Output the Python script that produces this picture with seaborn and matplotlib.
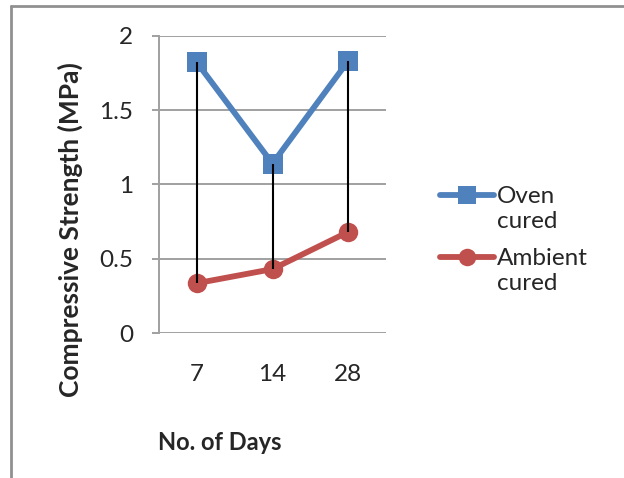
import matplotlib
matplotlib.use("Agg")
import matplotlib.pyplot as plt
import seaborn as sns
import pandas as pd
import numpy as np

days = ["7", "14", "28"]
oven_cured = [1.82, 1.14, 1.83]
ambient_cured = [0.335, 0.43, 0.68]
series_names = ["Oven\ncured", "Ambient\ncured"]
y_ticks = [0, 0.5, 1, 1.5, 2]
y_tick_labels = ["0", "0.5", "1", "1.5", "2"]

sns.set_theme(style="white")
plt.rcParams['font.family'] = ['Lato', 'DejaVu Sans']

pos = list(range(len(days)))
df = pd.DataFrame({
    "pos": pos * 2,
    "value": oven_cured + ambient_cured,
    "series": [series_names[0]] * 3 + [series_names[1]] * 3,
})

fig = plt.figure(figsize=(6.24, 4.78), dpi=100)
ax = fig.add_axes([0.2548, 0.3033, 0.6186 - 0.2548, 0.9253 - 0.3033])

grid_c = "#a0a0a0"
for t in y_ticks:
    ax.axhline(t, color=grid_c, lw=1.4, zorder=0)

ax.vlines(pos, ambient_cured, oven_cured, color="black", lw=1.5, zorder=5)

sns.lineplot(data=df, x="pos", y="value", hue="series", style="series",
             markers={series_names[0]: "s", series_names[1]: "o"}, dashes=False,
             palette={series_names[0]: "#4f81bd", series_names[1]: "#c0504d"},
             markersize=14, markeredgewidth=0, linewidth=4.2, sort=False, ax=ax,
             zorder=3)

ax.set_xlim(-0.5, 2.5)
ax.set_ylim(0, 2)
ax.set_xticks(pos)
ax.set_xticklabels(days)
ax.set_yticks(y_ticks)
ax.set_yticklabels(y_tick_labels)
for s in ["top", "right", "bottom"]:
    ax.spines[s].set_visible(False)
ax.spines["left"].set_color(grid_c)
ax.spines["left"].set_linewidth(1.4)
ax.tick_params(axis="y", length=5, width=1.4, color=grid_c, pad=13.5, labelsize=17.5, left=True)
ax.tick_params(axis="x", length=0, pad=22, labelsize=17.5)
ax.set_xlabel("")
ax.set_ylabel("")

fig.text(220 / 624, 1 - 443 / 478, "No. of Days", ha="center", va="center",
         fontsize=17, fontweight="bold")
fig.text(70 / 624, 1 - 230 / 478, "Compressive Strength (MPa)", ha="center", va="center",
         rotation=90, fontsize=19, fontweight="bold")

handles, labels = ax.get_legend_handles_labels()
leg = ax.legend(handles, labels, loc="upper left", bbox_to_anchor=(428 / 624, 1 - 174 / 478),
                bbox_transform=fig.transFigure, frameon=False, fontsize=17.5,
                handlelength=2.2, handletextpad=0.15, labelspacing=0.65, borderpad=0,
                markerscale=0.9)
for txt in leg.get_texts():
    txt.set_linespacing(1.25)
# align each legend handle with the first line of its two-line label
fig.canvas.draw()
for h in leg.legend_handles:
    h.set_ydata(np.asarray(h.get_ydata()) + 10.5)

# outer border
fig.add_artist(plt.Line2D([11 / 624, 11 / 624], [0, 1 - 6 / 478], color="#909090", lw=2,
                          transform=fig.transFigure))
fig.add_artist(plt.Line2D([11 / 624, 1], [1 - 6 / 478, 1 - 6 / 478], color="#909090", lw=2,
                          transform=fig.transFigure))

fig.savefig("out.png", dpi=100)
